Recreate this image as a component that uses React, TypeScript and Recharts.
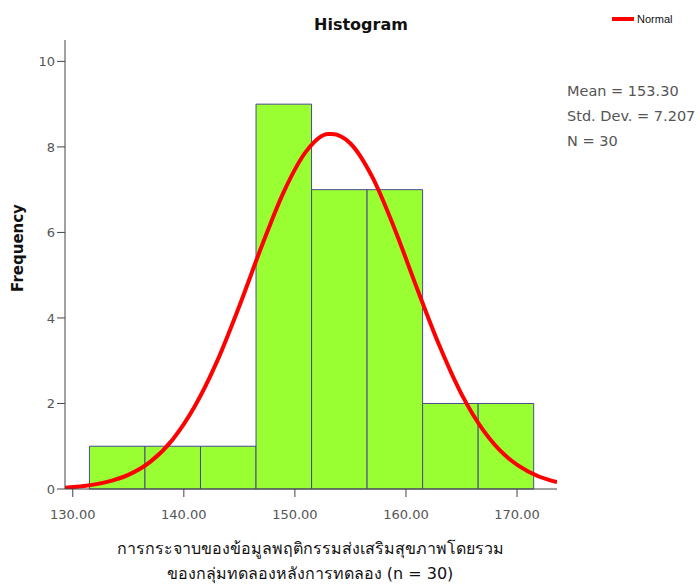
import React from "react";
import {
  ComposedChart,
  Line,
  XAxis,
  YAxis,
  ReferenceArea,
} from "recharts";

// histogram bins (width 5) and frequencies
const binStart = [131.5, 136.5, 141.5, 146.5, 151.5, 156.5, 161.5, 166.5];
const binEnd = [136.5, 141.5, 146.5, 151.5, 156.5, 161.5, 166.5, 171.5];
const counts = [1, 1, 1, 9, 7, 7, 2, 2];

// normal curve
const curveX = [
  129.3, 131, 133, 135, 137, 139, 141, 143, 145, 147, 149, 151, 153, 153.3,
  155, 157, 159, 161, 163, 165, 167, 169, 171, 173, 173.6,
];
const curveY = [
  0.03, 0.07, 0.16, 0.33, 0.64, 1.16, 1.94, 2.99, 4.28, 5.67, 6.95, 7.89, 8.3,
  8.3, 8.08, 7.28, 6.07, 4.69, 3.36, 2.22, 1.36, 0.77, 0.41, 0.2, 0.16,
];

const xTicks = [130, 140, 150, 160, 170];
const yTicks = [0, 2, 4, 6, 8, 10];

const statLines = ["Mean = 153.30", "Std. Dev. = 7.207", "N = 30"];
const xLabelLines = [
  "การกระจาบของข้อมูลพฤติกรรมส่งเสริมสุขภาพโดยรวม",
  "ของกลุ่มทดลองหลังการทดลอง (n = 30)",
];

const curveData = curveX.map((x, i) => ({ x, normal: curveY[i] }));

const BAR_FILL = "#99ff33";
const BAR_STROKE = "#4a4a8c";
const AXIS = "#444";
const TICK = { fill: "#555", fontSize: 13, fontFamily: "DejaVu Sans" };

export default function App() {
  return (
    <div
      style={{
        position: "absolute",
        left: 0,
        top: 0,
        width: 700,
        height: 586,
        background: "#fff",
        fontFamily: "DejaVu Sans",
      }}
    >
      <ComposedChart
        width={700}
        height={586}
        data={curveData}
        margin={{ top: 40, right: 143, bottom: 67, left: 20 }}
      >
        <XAxis
          dataKey="x"
          type="number"
          domain={[129.3, 173.6]}
          allowDataOverflow
          ticks={xTicks}
          tickFormatter={(v) => v.toFixed(2)}
          tick={{ ...TICK, dy: 11 }}
          tickSize={8}
          height={30}
          stroke={AXIS}
        />
        <YAxis
          type="number"
          domain={[0, 10.5]}
          allowDataOverflow
          ticks={yTicks}
          tick={TICK}
          tickSize={8}
          width={45}
          stroke={AXIS}
        />
        {counts.map((c, i) => (
          <ReferenceArea
            key={i}
            x1={binStart[i]}
            x2={binEnd[i]}
            y1={0}
            y2={c}
            fill={BAR_FILL}
            fillOpacity={1}
            stroke={BAR_STROKE}
            strokeWidth={1}
          />
        ))}
        <Line
          dataKey="normal"
          type="monotone"
          stroke="#ff0000"
          strokeWidth={4}
          dot={false}
          isAnimationActive={false}
        />
      </ComposedChart>

      {/* title */}
      <div
        style={{
          position: "absolute",
          left: 261,
          top: 15,
          width: 200,
          textAlign: "center",
          fontWeight: "bold",
          fontSize: 16,
          color: "#111",
        }}
      >
        Histogram
      </div>

      {/* legend */}
      <div style={{ position: "absolute", left: 612, top: 13, display: "flex", alignItems: "center" }}>
        <div style={{ width: 22, height: 4, background: "#ff0000", marginRight: 3 }} />
        <span style={{ fontFamily: "Liberation Sans", fontSize: 11, color: "#111" }}>Normal</span>
      </div>

      {/* stats */}
      <div style={{ position: "absolute", left: 567, top: 79, fontSize: 14.5, color: "#555", lineHeight: "25px" }}>
        {statLines.map((s) => (
          <div key={s}>{s}</div>
        ))}
      </div>

      {/* y label */}
      <div
        style={{
          position: "absolute",
          left: 18,
          top: 248,
          transform: "translate(-50%, -50%) rotate(-90deg)",
          fontWeight: "bold",
          fontSize: 15,
          color: "#111",
          whiteSpace: "nowrap",
        }}
      >
        Frequency
      </div>

      {/* x label */}
      <div
        style={{
          position: "absolute",
          left: 110,
          top: 536,
          width: 400,
          textAlign: "center",
          fontSize: 16,
          color: "#111",
          lineHeight: "25px",
        }}
      >
        {xLabelLines.map((s) => (
          <div key={s}>{s}</div>
        ))}
      </div>
    </div>
  );
}
